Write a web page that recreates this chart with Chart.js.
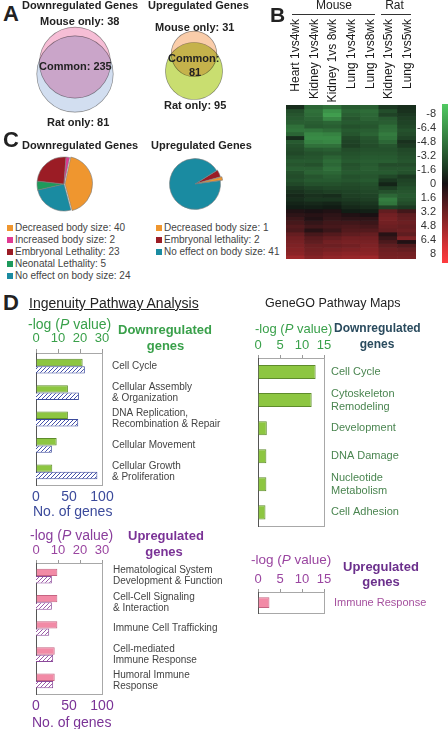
<!DOCTYPE html>
<html>
<head>
<meta charset="utf-8">
<script src="https://cdn.jsdelivr.net/npm/chart.js@4.4.1/dist/chart.umd.min.js"></script>
<style>
  html, body { margin: 0; padding: 0; background: #fff; }
  #fig { position: relative; width: 448px; height: 729px; overflow: hidden;
         font-family: 'Liberation Sans', Arial, sans-serif; color: #222; }
  #fig canvas { position: absolute; }
  .t { position: absolute; white-space: nowrap; }
  .sq { position: absolute; width: 6px; height: 6px; }
</style>
</head>
<body>
<div id="fig"></div>
<script>
// ---- data ----
const downVenn = { mouseOnly: 38, common: 235, ratOnly: 81 };
const upVenn = { mouseOnly: 31, common: 81, ratOnly: 95 };

const downPhenotypes = ['Decreased body size', 'Increased body size', 'Embryonal Lethality', 'Neonatal Lethality', 'No effect on body size'];
const downPhenotypeCounts = [40, 2, 23, 5, 24];
const upPhenotypes = ['Decreased body size', 'Embryonal lethality', 'No effect on body size'];
const upPhenotypeCounts = [1, 2, 41];

const heatColumns = ['Heart 1vs4wk', 'Kidney 1vs4wk', 'Kidney 1vs 8wk', 'Lung 1vs4wk', 'Lung 1vs8wk', 'Kidney 1vs5wk', 'Lung 1vs5wk'];
// log fold change per gene row (top to bottom), one value per column
const heatRows = [
  [-1.0, -3.5, -4.0, -3.0, -3.2, -1.5, -1.0],
  [-2.5, -4.0, -5.5, -3.5, -3.8, -2.5, -1.2],
  [-2.8, -3.8, -6.0, -3.2, -3.6, -2.0, -1.5],
  [-3.0, -3.5, -5.0, -2.8, -3.4, -3.0, -1.8],
  [-3.2, -3.2, -3.5, -3.0, -3.0, -3.2, -2.0],
  [-4.0, -3.0, -3.2, -2.6, -2.8, -3.8, -2.2],
  [-4.2, -4.2, -3.8, -3.0, -3.2, -4.0, -2.6],
  [-3.5, -5.0, -4.8, -2.8, -3.4, -4.5, -2.4],
  [-1.0, -5.2, -5.2, -2.2, -2.8, -4.2, -2.0],
  [-3.0, -4.8, -5.0, -2.0, -2.6, -3.6, -1.2],
  [-2.6, -4.0, -4.0, -1.8, -2.4, -2.8, -1.6],
  [-2.4, -3.0, -3.2, -2.4, -2.6, -2.6, -2.2],
  [-2.2, -2.6, -2.8, -2.6, -2.8, -2.8, -2.4],
  [-2.6, -2.8, -3.4, -2.8, -3.0, -3.0, -2.6],
  [-3.0, -3.0, -3.8, -3.0, -3.2, -3.2, -2.8],
  [-2.8, -2.6, -3.6, -2.6, -3.0, -2.4, -2.4],
  [-3.2, -3.2, -4.0, -2.8, -3.2, -2.8, -2.8],
  [-2.6, -3.4, -3.6, -3.0, -3.0, -3.0, -2.6],
  [-2.4, -2.8, -3.2, -2.6, -2.8, -2.2, -1.6],
  [-2.6, -3.0, -3.0, -2.8, -3.0, -1.4, -2.0],
  [-2.2, -2.6, -2.6, -2.4, -2.6, -0.6, -2.2],
  [-1.6, -2.0, -2.2, -2.2, -2.4, -1.8, -2.6],
  [-1.2, -1.6, -1.8, -2.0, -2.2, -2.6, -2.8],
  [-0.8, -1.2, -1.0, -1.8, -2.0, -3.6, -3.0],
  [-1.0, -1.4, -1.4, -1.6, -1.8, -4.6, -2.8],
  [-0.6, -0.8, -0.6, -1.2, -1.4, -4.2, -2.4],
  [-0.3, -0.4, -0.2, -0.8, -1.0, -2.0, -1.6],
  [0.4, 0.2, 0.4, -0.3, -0.4, 2.5, 1.5],
  [0.8, 0.6, 0.8, 0.4, 0.2, 3.0, 2.4],
  [1.2, 0.4, 1.0, 0.8, 0.8, 3.2, 2.6],
  [1.6, 1.0, 1.4, 1.4, 1.2, 3.0, 2.8],
  [2.0, 1.4, 1.6, 1.8, 1.6, 2.8, 2.6],
  [1.8, 0.6, 1.2, 2.0, 2.0, 2.6, 2.8],
  [2.6, 1.6, 2.0, 2.4, 2.6, 0.6, 2.4],
  [3.0, 2.2, 2.6, 3.0, 3.0, 1.2, 3.4],
  [3.2, 2.4, 3.0, 3.2, 3.2, 1.8, 0.4],
  [3.4, 2.8, 2.8, 3.0, 3.4, 2.4, 2.0],
  [3.6, 3.0, 3.2, 3.4, 3.6, 2.8, 2.6],
  [3.8, 3.2, 3.6, 3.8, 3.8, 3.0, 3.0],
  [4.4, 3.6, 4.0, 4.2, 4.4, 3.2, 3.2]
];
const colourbarTicks = [-8, -6.4, -4.8, -3.2, -1.6, 0, 1.6, 3.2, 4.8, 6.4, 8];

const ipaDownPathways = ['Cell Cycle', ['Cellular Assembly', '& Organization'], ['DNA Replication,', 'Recombination & Repair'], 'Cellular Movement', ['Cellular Growth', '& Proliferation']];
const ipaDownLogP = [21.2, 14.5, 14.5, 9.4, 7.4];
const ipaDownGenes = [74, 65, 64, 24, 93];
const ipaUpPathways = [['Hematological System', 'Development & Function'], ['Cell-Cell Signaling', '& Interaction'], 'Immune Cell Trafficking', ['Cell-mediated', 'Immune Response'], ['Humoral Immune', 'Response']];
const ipaUpLogP = [9.7, 9.7, 9.7, 8.5, 8.5];
const ipaUpGenes = [24, 24, 20, 26, 26];
const goDownPathways = ['Cell Cycle', ['Cytoskeleton', 'Remodeling'], 'Development', 'DNA Damage', ['Nucleotide', 'Metabolism'], 'Cell Adhesion'];
const goDownLogP = [13.1, 12.2, 2.0, 1.9, 1.9, 1.7];
const goUpPathways = ['Immune Response'];
const goUpLogP = [2.6];

// ---- helpers ----
Chart.defaults.font.family = "'Liberation Sans', Arial, sans-serif";
const fig = document.getElementById('fig');

function addCanvas(x, y, w, h) {
  const c = document.createElement('canvas');
  c.width = w; c.height = h;
  c.style.left = x + 'px'; c.style.top = y + 'px';
  c.style.width = w + 'px'; c.style.height = h + 'px';
  fig.appendChild(c);
  return c;
}
function addText(x, cy, html, size, style) {
  const d = document.createElement('div');
  d.className = 't';
  d.innerHTML = html;
  Object.assign(d.style, { left: x + 'px', top: (cy - size / 2) + 'px', fontSize: size + 'px', lineHeight: size + 'px' }, style || {});
  fig.appendChild(d);
  return d;
}
const bold = { fontWeight: 'bold' };
const centred = { transform: 'translateX(-50%)' };
function baseOptions() {
  return { responsive: false, animation: false, events: [], plugins: { legend: { display: false }, tooltip: { enabled: false } } };
}

// ---- A: Venn diagrams (circle area proportional to gene count) ----
const K = 2.15;
function lensArea(r1, r2, d) {
  if (d >= r1 + r2) return 0;
  if (d <= Math.abs(r1 - r2)) return Math.PI * Math.min(r1, r2) ** 2;
  const a = r1 * r1 * Math.acos((d * d + r1 * r1 - r2 * r2) / (2 * d * r1));
  const b = r2 * r2 * Math.acos((d * d + r2 * r2 - r1 * r1) / (2 * d * r2));
  const c = 0.5 * Math.sqrt((-d + r1 + r2) * (d + r1 - r2) * (d - r1 + r2) * (d + r1 + r2));
  return a + b - c;
}
function centreGap(r1, r2, target) {
  let lo = Math.abs(r1 - r2), hi = r1 + r2;
  for (let i = 0; i < 60; i++) {
    const mid = (lo + hi) / 2;
    if (lensArea(r1, r2, mid) > target) lo = mid; else hi = mid;
  }
  return (lo + hi) / 2;
}
const multiply = {
  id: 'multiply',
  beforeDatasetsDraw(chart) { chart.ctx.save(); chart.ctx.globalCompositeOperation = 'multiply'; },
  afterDatasetsDraw(chart) { chart.ctx.restore(); }
};
function vennChart(canvas, venn, mouseColour, ratColour, centre) {
  const rMouse = K * Math.sqrt(venn.mouseOnly + venn.common);
  const rRat = K * Math.sqrt(venn.ratOnly + venn.common);
  const gap = centreGap(rMouse, rRat, Math.PI * K * K * venn.common);
  const edge = 'rgba(110,110,110,0.75)';
  new Chart(canvas, {
    type: 'bubble',
    data: { datasets: [
      { data: [{ x: centre[0], y: centre[1], r: rRat }], backgroundColor: ratColour, borderColor: edge, borderWidth: 0.7, clip: false },
      { data: [{ x: centre[0], y: centre[1] - gap, r: rMouse }], backgroundColor: mouseColour, borderColor: edge, borderWidth: 0.7, clip: false }
    ] },
    options: Object.assign(baseOptions(), {
      layout: { padding: 0, autoPadding: false },
      scales: {
        x: { display: false, min: 0, max: canvas.width },
        y: { display: false, min: 0, max: canvas.height, reverse: true }
      }
    }),
    plugins: [multiply]
  });
}
vennChart(addCanvas(25, 20, 100, 100), downVenn, '#f6bed6', '#d2def0', [50, 54]);
vennChart(addCanvas(144, 25, 100, 85), upVenn, '#facdaa', '#c9de70', [50, 46]);

addText(3, 14, 'A', 22, bold);
addText(22, 5, 'Downregulated Genes', 11, bold);
addText(148, 5, 'Upregulated Genes', 11, bold);
addText(40, 21, 'Mouse only: ' + downVenn.mouseOnly, 11, bold);
addText(39, 66, 'Common: ' + downVenn.common, 11, bold);
addText(47, 122, 'Rat only: ' + downVenn.ratOnly, 11, bold);
addText(155, 27.5, 'Mouse only: ' + upVenn.mouseOnly, 11, bold);
addText(168, 58, 'Common:', 11, bold);
addText(195, 72, String(upVenn.common), 11, Object.assign({}, bold, centred));
addText(164, 105.5, 'Rat only: ' + upVenn.ratOnly, 11, bold);

// ---- B: heatmap ----
function heatColour(v) {
  const t = Math.min(Math.abs(v) / 8, 1);
  if (v < 0) return `rgb(${Math.round(15 + 65 * t)},${Math.round(22 + 180 * t)},${Math.round(18 + 80 * t)})`;
  return `rgb(${Math.round(Math.min(255, 20 + 250 * t))},${Math.round(15 + 45 * t)},${Math.round(18 + 45 * t)})`;
}
const heatLeft = 280, heatTop = 105;
const heat = new Chart(addCanvas(heatLeft, heatTop, 156, 154), {
  type: 'bar',
  data: {
    labels: heatColumns,
    datasets: heatRows.map(row => ({
      data: row.map(() => 1),
      backgroundColor: row.map(heatColour),
      borderWidth: 0,
      barPercentage: 1,
      categoryPercentage: 1
    }))
  },
  options: Object.assign(baseOptions(), {
    layout: { padding: { left: 6 } },
    scales: {
      x: { stacked: true, display: false },
      y: { stacked: true, reverse: true, display: false, min: 0, max: heatRows.length },
      cbar: {
        type: 'linear', position: 'right', reverse: true,
        min: -8 - 9 / 8.75, max: 8 + 5 / 8.75,
        grid: { display: false, drawTicks: false }, border: { display: false },
        ticks: { autoSkip: false, crossAlign: 'far', padding: 0, color: '#333', font: { size: 11 }, callback: v => String(v) },
        afterBuildTicks: s => { s.ticks = colourbarTicks.map(v => ({ value: v })); },
        afterFit: s => { s.width = 20; s.paddingTop = 0; s.paddingBottom = 0; }
      }
    }
  })
});
heatColumns.forEach((name, i) => {
  const cx = heatLeft + heat.scales.x.getPixelForValue(i);
  addText(cx - 6, 25, name, 12, { color: '#1a1a1a', writingMode: 'vertical-rl', transform: 'rotate(180deg)' });
});
const bar = document.createElement('div');
bar.style.cssText = 'position:absolute;left:442px;top:104px;width:6px;height:159px;background:linear-gradient(to bottom,' +
  colourbarTicks.map((v, i) => heatColour(v) + ' ' + (i * 10) + '%').join(',') + ')';
fig.appendChild(bar);
addText(270, 14, 'B', 21, bold);
addText(334, 5, 'Mouse', 12, centred);
addText(394.5, 5, 'Rat', 12, centred);
[[292, 375], [381, 411]].forEach(([a, b]) => {
  const l = document.createElement('div');
  l.style.cssText = `position:absolute;left:${a}px;top:14px;width:${b - a}px;height:1px;background:#333`;
  fig.appendChild(l);
});

// ---- C: pie charts ----
const phenotypeColours = {
  'decreased body size': '#ef962f', 'increased body size': '#e03a92', 'embryonal lethality': '#9b1c25',
  'neonatal lethality': '#1e9a5c', 'no effect on body size': '#1a8ba1'
};
function pieChart(canvas, labels, counts, drawOrder, rotation, offsets, radius) {
  new Chart(canvas, {
    type: 'pie',
    data: {
      labels: drawOrder.map(i => labels[i]),
      datasets: [{
        data: drawOrder.map(i => counts[i]),
        backgroundColor: drawOrder.map(i => phenotypeColours[labels[i].toLowerCase()]),
        borderColor: '#7a7a7a', borderWidth: 0.6,
        offset: drawOrder.map(i => offsets[i])
      }]
    },
    options: Object.assign(baseOptions(), { rotation, radius, layout: { padding: 0 } })
  });
}
function pieLegend(x, y0, labels, counts) {
  labels.forEach((lab, i) => {
    const cy = y0 + i * 12;
    const s = document.createElement('div');
    s.className = 'sq';
    s.style.left = (x - 8.5) + 'px'; s.style.top = (cy - 3) + 'px';
    s.style.background = phenotypeColours[lab.toLowerCase()];
    fig.appendChild(s);
    addText(x, cy, lab + ': ' + counts[i], 10, { color: '#444' });
  });
}
pieChart(addCanvas(29, 149, 70, 70), downPhenotypes, downPhenotypeCounts, [0, 4, 3, 2, 1], 12, [4, 0, 0, 0, 0], 27);
pieChart(addCanvas(160, 149, 70, 70), upPhenotypes, upPhenotypeCounts, [1, 0, 2], 58, [5, 2, 0], 25.5);
pieLegend(15, 227.5, downPhenotypes, downPhenotypeCounts);
pieLegend(164, 227.5, upPhenotypes, upPhenotypeCounts);
addText(3, 140, 'C', 22, bold);
addText(22, 145, 'Downregulated Genes', 11, bold);
addText(151, 145, 'Upregulated Genes', 11, bold);

// ---- D: pathway bar charts ----
function hatch(colour) {
  const p = document.createElement('canvas');
  p.width = p.height = 4;
  const g = p.getContext('2d');
  g.fillStyle = '#fff'; g.fillRect(0, 0, 4, 4);
  g.strokeStyle = colour; g.lineWidth = 1;
  g.beginPath();
  g.moveTo(0, 4); g.lineTo(4, 0);
  g.moveTo(-1, 1); g.lineTo(1, -1);
  g.moveTo(3, 5); g.lineTo(5, 3);
  g.stroke();
  return g.createPattern(p, 'repeat');
}
function pathwayChart(canvas, o) {
  const W = canvas.width, H = canvas.height, a = o.area;
  const datasets = [{ data: o.logP, xAxisID: 'x', yAxisID: 'y', backgroundColor: o.fill, borderColor: o.fillEdge, borderWidth: 1 }];
  if (o.genes) datasets.push({ data: o.genes, xAxisID: 'x2', yAxisID: 'y', backgroundColor: hatch(o.hatchColour), borderColor: o.hatchEdge, borderWidth: 1 });
  new Chart(canvas, {
    type: 'bar',
    data: { labels: o.categories, datasets },
    options: Object.assign(baseOptions(), {
      indexAxis: 'y',
      layout: { padding: 0 },
      datasets: { bar: { categoryPercentage: o.catPct, barPercentage: 1 } },
      scales: {
        x: {
          type: 'linear', position: 'top', min: 0, max: o.pMax,
          ticks: { stepSize: o.pStep, color: o.topColour, font: { size: 13 }, padding: o.topPad },
          grid: { drawOnChartArea: false, tickLength: o.tickLen, color: '#9a9a9a' },
          border: { color: '#a8a8a8' },
          afterFit: s => { s.height = a.top; }
        },
        x2: {
          type: 'linear', position: 'bottom', min: 0, max: o.gMax || o.pMax,
          ticks: { display: !!o.genes, stepSize: o.gStep, color: o.bottomColour, font: { size: 14 }, padding: 4 },
          grid: { display: false, drawTicks: false },
          border: { color: '#a8a8a8' },
          afterFit: s => { s.height = H - a.bottom; }
        },
        y: {
          type: 'category', position: 'left',
          grid: { display: false, drawTicks: false }, ticks: { display: false },
          border: { color: '#555' },
          afterFit: s => { s.width = a.left; }
        },
        yr: {
          type: 'category', position: 'right', offset: true,
          grid: { display: false, drawTicks: false },
          ticks: { autoSkip: false, color: o.labelColour, font: { size: o.labelSize, lineHeight: o.labelLine }, padding: o.labelPad },
          border: { color: '#a8a8a8' },
          afterFit: s => { s.width = W - a.right; }
        }
      }
    })
  });
}
const green = '#39a04a', navy = '#3b4a9b', purple = '#8a3e9c';

pathwayChart(addCanvas(0, 325, 236, 185), {
  categories: ipaDownPathways, logP: ipaDownLogP, genes: ipaDownGenes,
  pMax: 30, pStep: 10, gMax: 100, gStep: 50,
  fill: '#8dc641', fillEdge: '#5e8c2b', hatchColour: '#4652ab', hatchEdge: navy,
  topColour: green, bottomColour: navy, labelColour: '#444', labelSize: 10, labelLine: 1.1, labelPad: 10,
  area: { left: 36, top: 28, right: 102, bottom: 160 }, tickLen: 4, topPad: 3, catPct: 0.56
});
pathwayChart(addCanvas(0, 540, 236, 185), {
  categories: ipaUpPathways, logP: ipaUpLogP, genes: ipaUpGenes,
  pMax: 30, pStep: 10, gMax: 100, gStep: 50,
  fill: '#f28aa6', fillEdge: '#c66482', hatchColour: '#9b5aa8', hatchEdge: '#8b4a9a',
  topColour: '#9a45a0', bottomColour: '#7a3296', labelColour: '#444', labelSize: 10, labelLine: 1.1, labelPad: 11,
  area: { left: 36, top: 23, right: 102, bottom: 154 }, tickLen: 3, topPad: 2, catPct: 0.56
});
pathwayChart(addCanvas(224, 335, 224, 205), {
  categories: goDownPathways, logP: goDownLogP,
  pMax: 15, pStep: 5,
  fill: '#8dc641', fillEdge: '#5e8c2b',
  topColour: green, labelColour: '#4a8550', labelSize: 11, labelLine: 1.2, labelPad: 7,
  area: { left: 34, top: 23, right: 100, bottom: 198 }, tickLen: 3, topPad: 1.5, catPct: 0.5
});
pathwayChart(addCanvas(224, 570, 224, 60), {
  categories: goUpPathways, logP: goUpLogP,
  pMax: 15, pStep: 5,
  fill: '#f28aa6', fillEdge: '#c66482',
  topColour: '#9a45a0', labelColour: '#a5509e', labelSize: 11, labelLine: 1.2, labelPad: 10,
  area: { left: 34, top: 22, right: 100, bottom: 51 }, tickLen: 3, topPad: 2, catPct: 0.5
});

const logP = '-log (<i>P</i> value)';
addText(3, 303, 'D', 22, bold);
addText(29, 303, 'Ingenuity Pathway Analysis', 14, { textDecoration: 'underline' });
addText(265, 303, 'GeneGO Pathway Maps', 12.5);
addText(28, 324, logP, 14, { color: green });
addText(118, 329, 'Downregulated', 13, Object.assign({ color: green }, bold));
addText(165.5, 345, 'genes', 13, Object.assign({ color: green }, bold, centred));
addText(33, 511, 'No. of genes', 14, { color: navy });
addText(30, 535, logP, 14, { color: purple });
addText(128, 535, 'Upregulated', 13, Object.assign({ color: '#7a3296' }, bold));
addText(164, 551, 'genes', 13, Object.assign({ color: '#7a3296' }, bold, centred));
addText(32, 722, 'No. of genes', 14, { color: '#7a3296' });
addText(255, 328, logP, 13, { color: green });
addText(334, 328, 'Downregulated', 12, Object.assign({ color: '#2a4b5e' }, bold));
addText(377, 344, 'genes', 12, Object.assign({ color: '#2a4b5e' }, bold, centred));
addText(251, 560, logP, 13.5, { color: '#9a45a0' });
addText(343, 566.5, 'Upregulated', 13, Object.assign({ color: '#6b2f8c' }, bold));
addText(381, 581.5, 'genes', 13, Object.assign({ color: '#6b2f8c' }, bold, centred));
</script>
</body>
</html>
